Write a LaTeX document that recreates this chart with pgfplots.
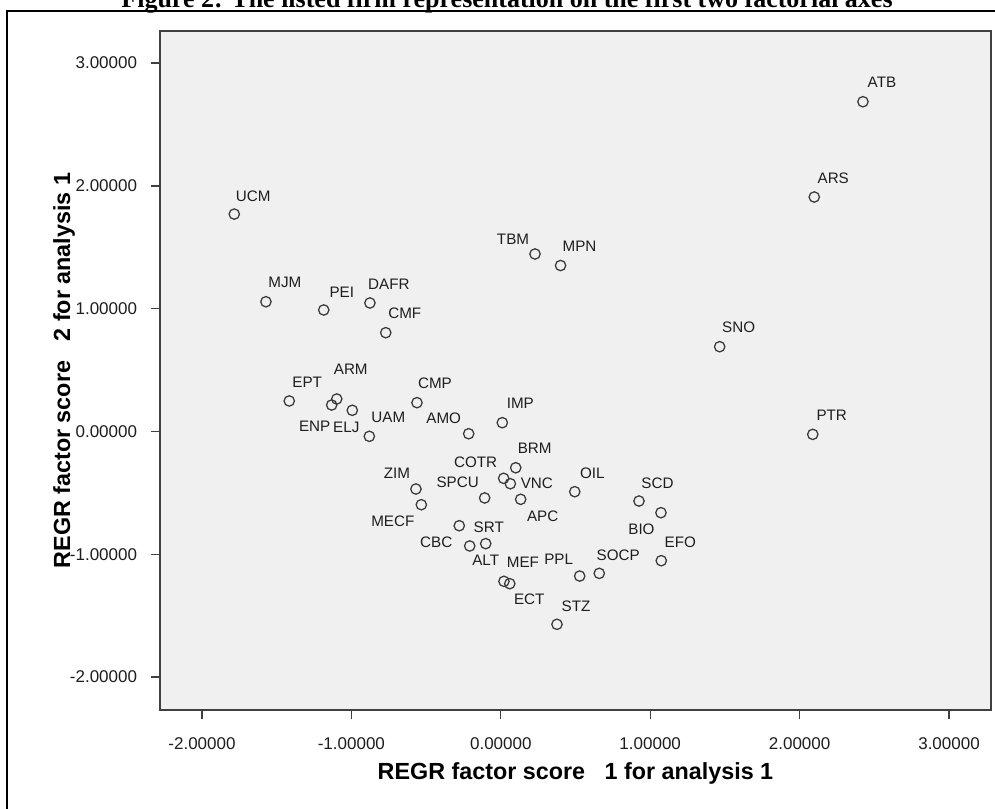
\documentclass[border=0pt]{standalone}
\usepackage{pgfplots}
\pgfplotsset{compat=1.18}
\usepackage{fontspec}
\setmainfont{Liberation Sans}
\newfontfamily\titlefont{Liberation Serif}
\definecolor{plotbg}{HTML}{F0F0F0}
\definecolor{axisgray}{HTML}{404040}
\definecolor{markgray}{HTML}{3A3A3A}
\definecolor{labelgray}{HTML}{1E1E1E}

\begin{document}
\begin{tikzpicture}
\useasboundingbox (0,0) rectangle (746.25pt,-606pt);
\fill[white] (0,0) rectangle (746.25pt,-606pt);
\draw[black, line width=1.1pt] (5.25pt,-620pt) -- (5.25pt,-8.25pt) -- (760pt,-8.25pt);
\node[anchor=base, font=\titlefont\bfseries\fontsize{19.5pt}{22pt}\selectfont] at (380.25pt,-5.5pt)
  {Figure 2: The listed firm representation on the first two factorial axes};
\begin{axis}[
  at={(120pt,-23.25pt)}, anchor=north west,
  scale only axis, width=623.25pt, height=509.25pt,
  xmin=-2.281, xmax=3.281, ymin=-2.269, ymax=3.261,
  axis background/.style={fill=plotbg},
  axis line style={draw=axisgray, line width=1.2pt},
  tick align=outside, tick pos=left,
  major tick length=7pt,
  tick style={draw=axisgray, line width=1pt},
  xtick={-2,-1,0,1,2,3},
  xticklabels={-2.00000,-1.00000,0.00000,1.00000,2.00000,3.00000},
  ytick={-2,-1,0,1,2,3},
  yticklabels={-2.00000,-1.00000,0.00000,1.00000,2.00000,3.00000},
  ticklabel style={font=\fontsize{12.75pt}{14pt}\selectfont, text=labelgray},
  xticklabel style={anchor=base, inner sep=0pt, yshift=-22.9pt},
  yticklabel style={anchor=east, inner sep=0pt, xshift=-10pt},
  clip=false,
]
\addplot[only marks, mark=o, mark size=3.9pt,
  mark options={draw=markgray, line width=0.95pt},
  point meta=explicit symbolic,
  visualization depends on={\thisrow{dx} \as \dx},
  visualization depends on={\thisrow{dy} \as \dy},
  nodes near coords={\pgfplotspointmeta},
  nodes near coords style={anchor=center, inner sep=0pt,
    xshift=\dx*0.75pt, yshift=\dy*0.75pt,
    font=\fontsize{11.4pt}{13pt}\selectfont, text=labelgray}]
  table[x=x, y=y, meta=name] {
name x y dx dy
ATB 2.424 2.685 19 19
ARS 2.098 1.909 19 19
SNO 1.465 0.690 19 19
PTR 2.088 -0.024 19 19
UCM -1.784 1.770 19 18
MJM -1.572 1.056 19 19
PEI -1.185 0.989 18 18
DAFR -0.876 1.046 19 19
CMF -0.770 0.804 19 19
TBM 0.229 1.445 -22 15
MPN 0.400 1.351 19 19
EPT -1.416 0.248 18 19
ARM -1.098 0.264 14 30
ENP -1.132 0.215 -17 -21
ELJ -0.994 0.172 -6 -17.5
UAM -0.880 -0.040 19 19
CMP -0.561 0.234 18 19
AMO -0.215 -0.019 -25 15.5
IMP 0.010 0.071 18 19
BRM 0.100 -0.296 19 19
COTR 0.019 -0.382 -28 16
VNC 0.064 -0.426 26.5 0
ZIM -0.568 -0.469 -19 15.5
SPCU -0.108 -0.542 -27 15.5
MECF -0.532 -0.597 -28.5 -16.5
APC 0.133 -0.553 22 -16.5
OIL 0.495 -0.491 17.5 18
SCD 0.925 -0.567 18.5 18
BIO 1.072 -0.662 -19.5 -17
CBC -0.278 -0.768 -23 -16.5
SRT -0.208 -0.933 19 18.5
ALT -0.101 -0.914 0 -17
EFO 1.074 -1.053 19 18
MEF 0.021 -1.221 19 19
ECT 0.060 -1.240 19.5 -15.5
PPL 0.528 -1.178 -21 17
SOCP 0.659 -1.156 19 18.5
STZ 0.376 -1.571 19 18.5
};
\end{axis}
\node[anchor=base, font=\bfseries\fontsize{17.5pt}{20pt}\selectfont] at (431.6pt,-584.6pt)
  {REGR factor score\ \ \ 1 for analysis 1};
\node[anchor=base, rotate=90, font=\bfseries\fontsize{17.5pt}{20pt}\selectfont] at (52.5pt,-277.9pt)
  {REGR factor score\ \ \ 2 for analysis 1};
\end{tikzpicture}
\end{document}
